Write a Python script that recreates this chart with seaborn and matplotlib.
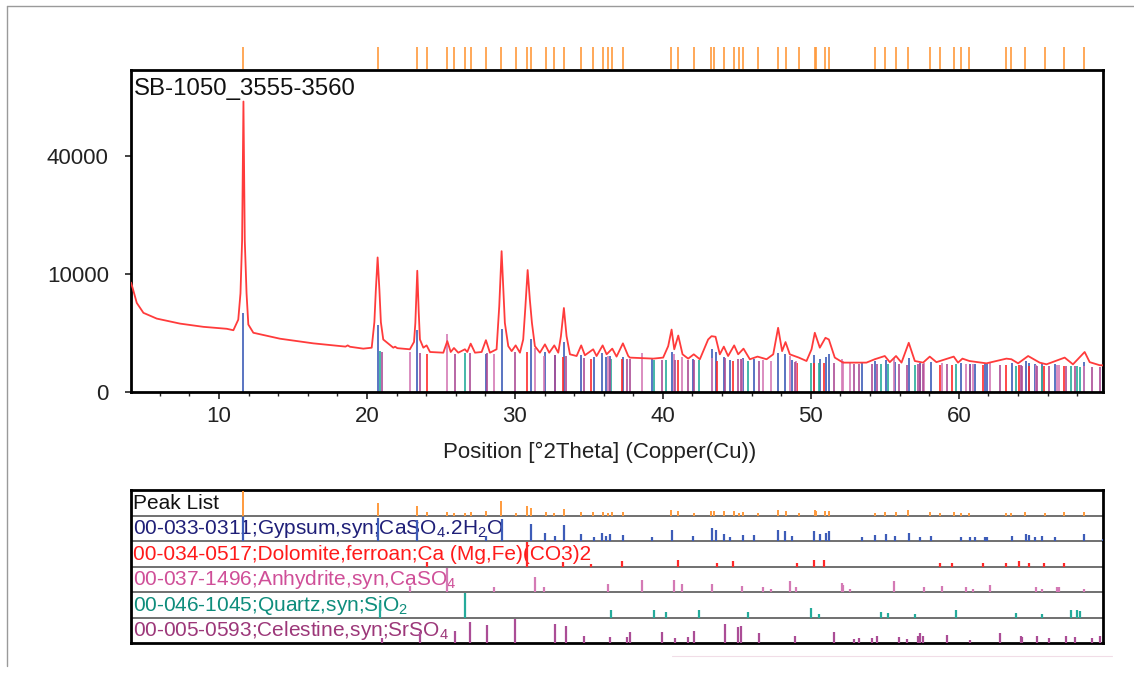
import numpy as np
import pandas as pd
import matplotlib
matplotlib.use("Agg")
import matplotlib.pyplot as plt
import seaborn as sns
from matplotlib.lines import Line2D
from matplotlib.ticker import MultipleLocator, FixedLocator

# ---------------- data ----------------
sample_name = "SB-1050_3555-3560"
x_label = "Position [°2Theta] (Copper(Cu))"
x_ticks = [10, 20, 30, 40, 50, 60]
y_ticks = [0, 10000, 40000]
y_tick_labels = ["0", "10000", "40000"]

# measured profile (°2theta, counts)
profile_2theta = [4.05, 4.17, 4.44, 4.89, 5.79, 7.36, 8.94, 10.52, 10.97, 11.30, 11.45, 11.56, 11.65,
                  11.74, 11.86, 11.98, 12.32, 14.12, 16.37, 18.55, 18.70, 18.85, 19.75, 20.32, 20.50,
                  20.60, 20.72, 20.84, 20.94, 21.10, 21.78, 21.90, 22.05, 22.90, 23.18, 23.27, 23.40,
                  23.50, 23.58, 23.81, 24.03, 24.26, 25.16, 25.43, 25.66, 25.88, 26.17, 26.62, 26.78,
                  27.01, 27.30, 27.75, 28.04, 28.31, 28.76, 28.94, 29.10, 29.32, 29.55, 29.78, 30.05,
                  30.34, 30.56, 30.70, 30.86, 31.01, 31.15, 31.35, 31.69, 32.03, 32.32, 32.66, 32.93,
                  33.11, 33.31, 33.49, 33.72, 34.17, 34.48, 34.73, 35.29, 35.52, 35.93, 36.20, 36.58,
                  36.87, 37.30, 37.66, 37.77, 39.35, 40.02, 40.36, 40.59, 40.77, 41.04, 41.33, 41.71,
                  42.09, 42.50, 43.06, 43.29, 43.56, 43.85, 44.12, 44.41, 44.82, 45.09, 45.45, 45.88,
                  46.40, 47.01, 47.46, 47.79, 48.06, 48.29, 48.58, 49.19, 49.71, 50.05, 50.27, 50.61,
                  50.99, 51.22, 51.62, 52.18, 53.76, 54.32, 55.00, 55.34, 55.76, 56.13, 56.62, 57.03,
                  57.59, 58.04, 58.49, 59.66, 59.95, 60.25, 60.72, 61.87, 63.22, 63.56, 64.01, 64.69,
                  65.47, 65.93, 67.16, 67.72, 68.51, 68.85, 69.53, 69.75]
profile_counts = [8600, 7700, 5700, 4500, 3870, 3360, 3050, 2870, 2740, 3760, 7000, 16500, 60600,
                  16500, 7000, 3270, 2520, 2040, 1700, 1480, 1560, 1470, 1350, 1410, 3500,
                  7500, 13000, 7500, 3500, 1980, 1410, 1475, 1380, 1310, 1800, 3430, 10560,
                  4500, 1980, 1410, 1560, 1150, 1110, 1860, 1150, 1390, 1110, 1310, 1150,
                  1680, 1110, 1150, 1930, 1110, 1310, 5260, 14240, 3430, 1510, 1200, 1560,
                  1110, 1980, 5000, 10680, 6100, 3430, 1510, 1110, 1630, 1110, 1560, 1110,
                  2240, 5070, 2240, 1020, 930, 1560, 970, 1310, 930, 1560, 1020, 1350,
                  900, 1700, 930, 850, 800, 850, 1510, 2800, 1310, 2290, 1020, 800,
                  1020, 770, 1980, 2240, 2190, 1020, 1480, 930, 1560, 1020, 1350, 770,
                  900, 770, 1020, 2960, 1200, 1790, 1020, 850, 690, 1310, 2520, 1410,
                  2110, 1980, 850, 620, 620, 770, 930, 640, 930, 620, 1740, 690,
                  620, 900, 640, 900, 620, 800, 690, 590, 800, 770, 590, 930,
                  620, 550, 850, 550, 1150, 640, 515, 510]

# fitted background level on which the reference sticks sit in the main view
bkg_2theta = [4, 10, 12.5, 15, 20, 22, 25, 30, 35, 40, 45, 50, 55, 60, 65, 70]
bkg_counts = [6400, 2450, 2100, 1700, 1180, 1130, 980, 950, 800, 710, 690, 600, 540, 530, 485, 440]

# peak list (positions, relative height)
peak_pos = [11.65, 20.77, 23.40, 24.03, 25.43, 25.88, 26.62, 27.00, 28.02, 29.08, 30.05, 30.83, 31.08,
            32.09, 32.66, 33.29, 34.48, 35.31, 35.92, 36.26, 36.58, 37.32, 40.52, 41.04, 42.09, 43.22,
            43.49, 44.12, 44.82, 45.14, 45.45, 46.40, 47.77, 48.29, 49.19, 50.25, 50.36, 50.99, 51.22,
            54.32, 55.00, 55.76, 56.58, 58.04, 58.72, 59.66, 60.16, 60.72, 63.18, 63.56, 64.51, 65.84,
            67.14, 68.47]
peak_rel = [1.0, 0.5, 0.37, 0.16, 0.16, 0.1, 0.1, 0.16, 0.17, 0.57, 0.1, 0.37, 0.3,
            0.16, 0.1, 0.26, 0.13, 0.13, 0.16, 0.1, 0.13, 0.16, 0.23, 0.2, 0.1, 0.2,
            0.2, 0.17, 0.17, 0.1, 0.13, 0.1, 0.24, 0.2, 0.1, 0.24, 0.2, 0.2, 0.2,
            0.1, 0.13, 0.13, 0.21, 0.13, 0.1, 0.13, 0.1, 0.1, 0.1, 0.1, 0.16, 0.1,
            0.14, 0.13]

gypsum_pos = [11.65, 20.77, 23.40, 28.06, 29.14, 31.10, 32.03, 32.70, 33.31, 34.48, 35.34, 35.90, 36.17,
              36.46, 37.32, 39.26, 40.59, 42.07, 43.29, 43.56, 44.12, 44.51, 45.45, 46.13, 47.75, 48.26,
              48.72, 50.22, 50.61, 51.06, 51.24, 53.49, 54.32, 55.07, 55.70, 56.64, 57.41, 58.11, 60.18,
              60.74, 61.13, 61.80, 61.90, 63.58, 64.57, 64.75, 65.14, 65.65, 66.53, 68.47, 69.73]
gypsum_rel = [1.0, 0.95, 0.85, 0.2, 0.9, 0.7, 0.35, 0.2, 0.65, 0.28, 0.18, 0.35, 0.2,
              0.28, 0.24, 0.15, 0.45, 0.2, 0.53, 0.45, 0.28, 0.15, 0.24, 0.24, 0.45, 0.41,
              0.2, 0.41, 0.28, 0.35, 0.43, 0.15, 0.24, 0.28, 0.2, 0.35, 0.15, 0.2, 0.18,
              0.15, 0.15, 0.15, 0.15, 0.2, 0.28, 0.24, 0.18, 0.2, 0.18, 0.28, 0.1]

dolomite_pos = [24.03, 30.83, 33.27, 35.11, 37.21, 40.99, 43.67, 44.75, 49.10, 50.22, 50.86, 58.72,
                59.53, 61.62, 63.18, 64.08, 64.75, 65.76, 67.09]
dolomite_rel = [0.2, 1.0, 0.17, 0.1, 0.24, 0.28, 0.15, 0.24, 0.13, 0.28, 0.28, 0.13,
                0.13, 0.13, 0.13, 0.24, 0.13, 0.13, 0.13]

anhydrite_pos = [22.90, 25.43, 28.58, 31.33, 31.96, 36.26, 38.58, 40.72, 41.28, 43.29, 45.38, 46.76,
                 47.32, 48.58, 49.03, 52.11, 52.18, 52.68, 55.65, 57.64, 58.85, 60.47, 60.93, 62.12,
                 65.25, 65.66, 66.67, 66.78, 68.47]
anhydrite_rel = [0.25, 1.0, 0.2, 0.6, 0.2, 0.33, 0.5, 0.5, 0.33, 0.33, 0.25, 0.2,
                 0.13, 0.47, 0.2, 0.38, 0.3, 0.13, 0.46, 0.2, 0.25, 0.2, 0.13, 0.3,
                 0.2, 0.13, 0.2, 0.2, 0.13]

quartz_pos = [20.88, 26.64, 36.51, 39.39, 40.20, 42.41, 45.77, 50.02, 50.54, 54.75, 55.20, 57.07,
              59.84, 63.90, 65.66, 67.61, 67.97, 68.18]
quartz_rel = [0.6, 1.0, 0.33, 0.33, 0.23, 0.3, 0.23, 0.4, 0.15, 0.23, 0.18, 0.15,
              0.33, 0.18, 0.15, 0.3, 0.3, 0.26]

celestine_pos = [21.03, 23.60, 25.95, 26.96, 28.09, 30.03, 32.72, 33.48, 34.66, 36.42, 37.55, 37.77,
                 39.95, 40.79, 41.67, 42.09, 44.21, 45.07, 45.25, 46.51, 48.90, 51.57, 52.89, 53.27,
                 54.12, 54.50, 55.95, 56.47, 57.25, 57.41, 57.59, 59.21, 60.74, 62.82, 64.19, 64.30,
                 65.31, 66.08, 67.28, 67.88, 69.03, 69.57]
celestine_rel = [0.22, 0.45, 0.5, 0.85, 0.75, 1.0, 0.8, 0.7, 0.28, 0.25, 0.25, 0.45,
                 0.45, 0.2, 0.25, 0.5, 0.8, 0.65, 0.7, 0.4, 0.28, 0.45, 0.17, 0.2,
                 0.2, 0.3, 0.25, 0.17, 0.28, 0.4, 0.3, 0.35, 0.14, 0.4, 0.28, 0.25,
                 0.28, 0.2, 0.3, 0.25, 0.2, 0.28]

row_labels = ["Peak List",
              "00-033-0311;Gypsum,syn;CaSO$_\\mathregular{4}$.2H$_\\mathregular{2}$O",
              "00-034-0517;Dolomite,ferroan;Ca (Mg,Fe)(CO3)2",
              "00-037-1496;Anhydrite,syn,CaSO$_\\mathregular{4}$",
              "00-046-1045;Quartz,syn;SiO$_\\mathregular{2}$",
              "00-005-0593;Celestine,syn;SrSO$_\\mathregular{4}$"]

# ---------------- styling ----------------
sns.set_theme(style="white")
plt.rcParams["font.family"] = ["Liberation Sans", "DejaVu Sans"]
plt.rcParams["mathtext.fontset"] = "custom"
plt.rcParams["mathtext.rm"] = "Liberation Sans"

W, H = 1134, 678
fig = plt.figure(figsize=(W / 100, H / 100), dpi=100)
fig.patch.set_facecolor("white")

def fx(px):
    return px / W

def fy(py):
    return 1 - py / H

X_LEFT, X_RIGHT = 131, 1103
XLIM = (4.05, 69.75)

profile_color = "#ff3b3b"
peak_color = "#ff9a3c"
phases = [
    # pos, rel, stick colour, text colour, main-view scale
    (gypsum_pos, gypsum_rel, "#3d5cb8", "#1f1f78", 2300),
    (dolomite_pos, dolomite_rel, "#ff2a2a", "#ff1a1a", 250),
    (anhydrite_pos, anhydrite_rel, "#d47ab5", "#cf4f98", 1400),
    (quartz_pos, quartz_rel, "#25ab9b", "#0e8d7c", 150),
    (celestine_pos, celestine_rel, "#ab4d96", "#9c3779", 200),
]

# ---------------- main axes ----------------
ax = fig.add_axes([fx(X_LEFT), fy(392), fx(X_RIGHT - X_LEFT), (392 - 69.5) / H])
ax.set_yscale("function", functions=(lambda v: np.sqrt(np.clip(v, 0, None)), lambda v: np.asarray(v) ** 2))

for pos, rel, scol, tcol, scale in phases:
    pos = np.asarray(pos)
    tops = np.interp(pos, bkg_2theta, bkg_counts) + scale * np.asarray(rel) ** 2
    ax.vlines(pos, 0, tops, colors=scol, linewidth=1.2, zorder=2)

df = pd.DataFrame({"two_theta": profile_2theta, "counts": profile_counts})
sns.lineplot(data=df, x="two_theta", y="counts", ax=ax, color=profile_color,
             linewidth=1.3, sort=False, estimator=None, zorder=3)

ax.set_xlim(*XLIM)
ax.set_ylim(0, 74700)
ax.yaxis.set_major_locator(FixedLocator(y_ticks))
ax.set_yticklabels(y_tick_labels)
ax.xaxis.set_major_locator(FixedLocator(x_ticks))
ax.xaxis.set_minor_locator(MultipleLocator(2))
ax.tick_params(axis="x", which="major", direction="out", length=5, width=1.2, pad=5,
               labelsize=16, colors="#222222", bottom=True)
ax.tick_params(axis="x", which="minor", direction="out", length=3, width=1.0, bottom=True)
ax.tick_params(axis="y", which="major", direction="out", length=4, width=1.2, pad=12,
               labelsize=16, colors="#222222", left=True)
ax.set_xlabel(x_label, fontsize=16, color="#222222")
ax.set_ylabel("")
ax.xaxis.set_label_coords((600 - X_LEFT) / (X_RIGHT - X_LEFT), -0.155)
for sp in ax.spines.values():
    sp.set_linewidth(2.0)
    sp.set_color("black")
ax.text(0.003, 0.94, sample_name, transform=ax.transAxes, fontsize=17.3, va="center",
        ha="left", color="#111111", zorder=5)

# ---------------- peak-list strip above the main frame ----------------
ax_top = fig.add_axes([fx(X_LEFT), fy(69), fx(X_RIGHT - X_LEFT), 22 / H])
ax_top.vlines(peak_pos, 0, 1, colors=peak_color, linewidth=1.2)
ax_top.set_xlim(*XLIM)
ax_top.set_ylim(0, 1)
ax_top.axis("off")

# ---------------- bottom reference panel ----------------
axb = fig.add_axes([fx(X_LEFT), fy(643), fx(X_RIGHT - X_LEFT), (643 - 490) / H])
axb.set_xlim(*XLIM)
axb.set_ylim(6, 0)
axb.set_xticks([])
axb.set_yticks([])
for sp in axb.spines.values():
    sp.set_linewidth(2.0)
    sp.set_color("black")
for yline in range(1, 6):
    axb.axhline(yline, color="#707070", linewidth=1.4, zorder=1)

axb.vlines(peak_pos, 1, 1 - 0.97 * np.asarray(peak_rel), colors=peak_color, linewidth=1.4, zorder=3)
for i, (pos, rel, scol, tcol, scale) in enumerate(phases):
    base = i + 2
    axb.vlines(pos, base, base - 0.95 * np.asarray(rel), colors=scol, linewidth=1.6, zorder=3)

text_colors = ["#111111"] + [p[3] for p in phases]
for i, (lab, col) in enumerate(zip(row_labels, text_colors)):
    axb.text(0.002, i + 0.52, lab, transform=axb.get_yaxis_transform(), fontsize=15,
             color=col, va="center", ha="left", zorder=2)

# ---------------- outer decoration lines ----------------
fig.add_artist(Line2D([fx(7), fx(1134)], [fy(6), fy(6)], color="#9a9a9a", linewidth=1.0))
fig.add_artist(Line2D([fx(7), fx(7)], [fy(6), fy(666)], color="#9a9a9a", linewidth=1.0))
fig.add_artist(Line2D([fx(672), fx(1112)], [fy(656), fy(656)], color="#f1dde7", linewidth=0.8))

fig.savefig("out.png", dpi=100, facecolor="white")
